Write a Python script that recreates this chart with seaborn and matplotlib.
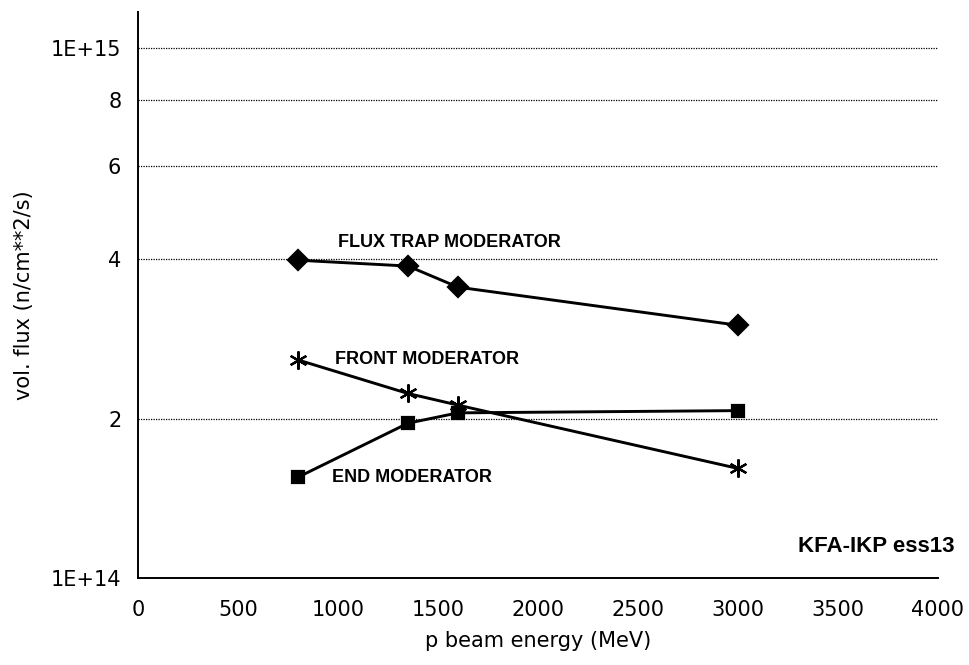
import matplotlib
matplotlib.use("Agg")
import matplotlib.pyplot as plt
import seaborn as sns
import pandas as pd

# beam energies (MeV) and volume-averaged flux (n/cm**2/s)
energy = [800, 1350, 1600, 3000]
flux_trap = [3.98e14, 3.88e14, 3.54e14, 3.00e14]
front = [2.58e14, 2.23e14, 2.12e14, 1.61e14]
end = [1.55e14, 1.96e14, 2.05e14, 2.07e14]

y_ticks = [1e14, 2e14, 4e14, 6e14, 8e14, 1e15]
y_tick_labels = ["1E+14", "2", "4", "6", "8", "1E+15"]
x_ticks = [0, 500, 1000, 1500, 2000, 2500, 3000, 3500, 4000]

sns.set_theme(style="white")
plt.rcParams["font.family"] = ["DejaVu Sans"]

fig = plt.figure(figsize=(9.7, 6.65), dpi=100)
ax = fig.add_axes([0.1423, 0.1308, 0.8247, 0.851])

series = [
    (flux_trap, "D", 10),
    (front, (6, 2, 0), 13),
    (end, "s", 9),
]
for vals, mk, ms in series:
    df = pd.DataFrame({"energy": energy, "flux": vals})
    sns.lineplot(data=df, x="energy", y="flux", ax=ax, color="black",
                 linewidth=2.1, marker=mk, markersize=ms,
                 markeredgecolor="black", markerfacecolor="black",
                 markeredgewidth=1.6, zorder=3)

ax.set_yscale("log")
ax.set_xlim(0, 4000)
ax.set_ylim(1e14, 1.17e15)
ax.set_yticks(y_ticks)
ax.set_yticklabels(y_tick_labels)
ax.yaxis.set_minor_locator(matplotlib.ticker.NullLocator())
ax.set_xticks(x_ticks)
ax.set_xticklabels([str(t) for t in x_ticks])

for v in y_ticks[1:]:
    ax.axhline(v, color="black", linestyle=(0, (1, 1)), linewidth=0.9, zorder=1)

for s in ["top", "right"]:
    ax.spines[s].set_visible(False)
for s in ["left", "bottom"]:
    ax.spines[s].set_color("black")
    ax.spines[s].set_linewidth(1.4)

ax.tick_params(axis="both", direction="out", colors="black", labelsize=15,
               width=1.2)
ax.tick_params(axis="x", length=10, pad=6)
ax.tick_params(axis="y", length=8, pad=4)

ax.set_xlabel("p beam energy (MeV)", fontsize=15, color="black", labelpad=8)
ax.set_ylabel("vol. flux (n/cm**2/s)", fontsize=15, color="black", labelpad=12)

lab_font = dict(family=["Liberation Sans"], fontweight="bold",
                fontsize=13, color="black")
ax.text(1000, 4.3e14, "FLUX TRAP MODERATOR", va="center", ha="left", **lab_font)
ax.text(985, 2.58e14, "FRONT MODERATOR", va="center", ha="left", **lab_font)
ax.text(970, 1.55e14, "END MODERATOR", va="center", ha="left", **lab_font)
ax.text(1.021, 0.055, "KFA-IKP ess13", transform=ax.transAxes, va="center",
        ha="right", clip_on=False, family=["Liberation Sans"],
        fontweight="bold", fontsize=16, color="black")

fig.savefig("out.png", dpi=100)
